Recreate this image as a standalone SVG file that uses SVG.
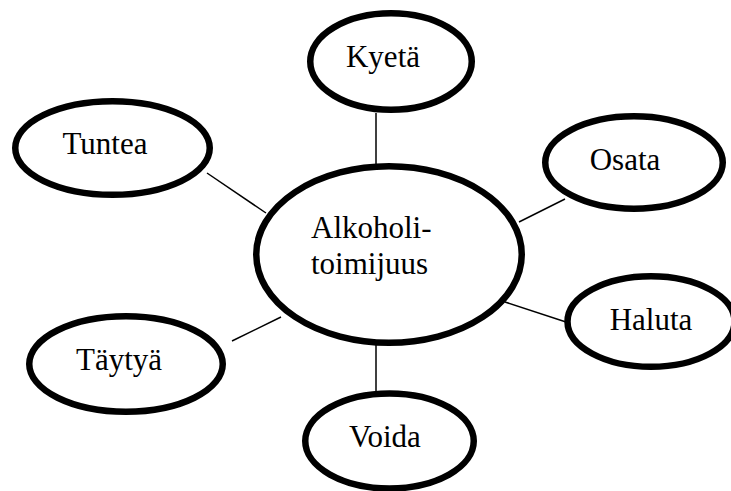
<svg xmlns="http://www.w3.org/2000/svg" width="731" height="491" viewBox="0 0 731 491">
<style>
.n{fill:#fff;stroke:#000;stroke-width:6.5}
.t{font-family:"Liberation Serif","Times New Roman",serif;font-size:31px;fill:#000;text-anchor:middle}
.c line{stroke:#000;stroke-width:1.5}
</style>
<rect width="731" height="491" fill="#fff"/>
<g class="c" id="connectors">
<line x1="376" y1="113" x2="376" y2="166"/>
<line x1="207" y1="173" x2="266" y2="213"/>
<line x1="565" y1="199" x2="519" y2="222"/>
<line x1="505" y1="302" x2="566" y2="322"/>
<line x1="232" y1="341" x2="281" y2="317"/>
<line x1="376" y1="343" x2="376" y2="392"/>
</g>
<g id="center">
<ellipse class="n" cx="389" cy="254.5" rx="132.75" ry="88.25"/>
<text class="t" x="311" y="238" style="text-anchor:start">Alkoholi-</text>
<text class="t" x="311" y="274" style="text-anchor:start">toimijuus</text>
</g>
<g id="kyeta">
<ellipse class="n" cx="391" cy="61.5" rx="80.75" ry="48.25"/>
<text class="t" x="383" y="67">Kyetä</text>
</g>
<g id="tuntea">
<ellipse class="n" cx="112.5" cy="148" rx="97.25" ry="46.75"/>
<text class="t" x="105" y="154">Tuntea</text>
</g>
<g id="osata">
<ellipse class="n" cx="634" cy="162.5" rx="88.75" ry="46.25"/>
<text class="t" x="625" y="170">Osata</text>
</g>
<g id="haluta">
<ellipse class="n" cx="651" cy="321.5" rx="83.5" ry="45.25"/>
<text class="t" x="651" y="330">Haluta</text>
</g>
<g id="taytya">
<ellipse class="n" cx="126" cy="364" rx="96.75" ry="47.75"/>
<text class="t" x="119" y="370">Täytyä</text>
</g>
<g id="voida">
<ellipse class="n" cx="389.5" cy="441" rx="84.25" ry="47.5"/>
<text class="t" x="385" y="447">Voida</text>
</g>
</svg>
